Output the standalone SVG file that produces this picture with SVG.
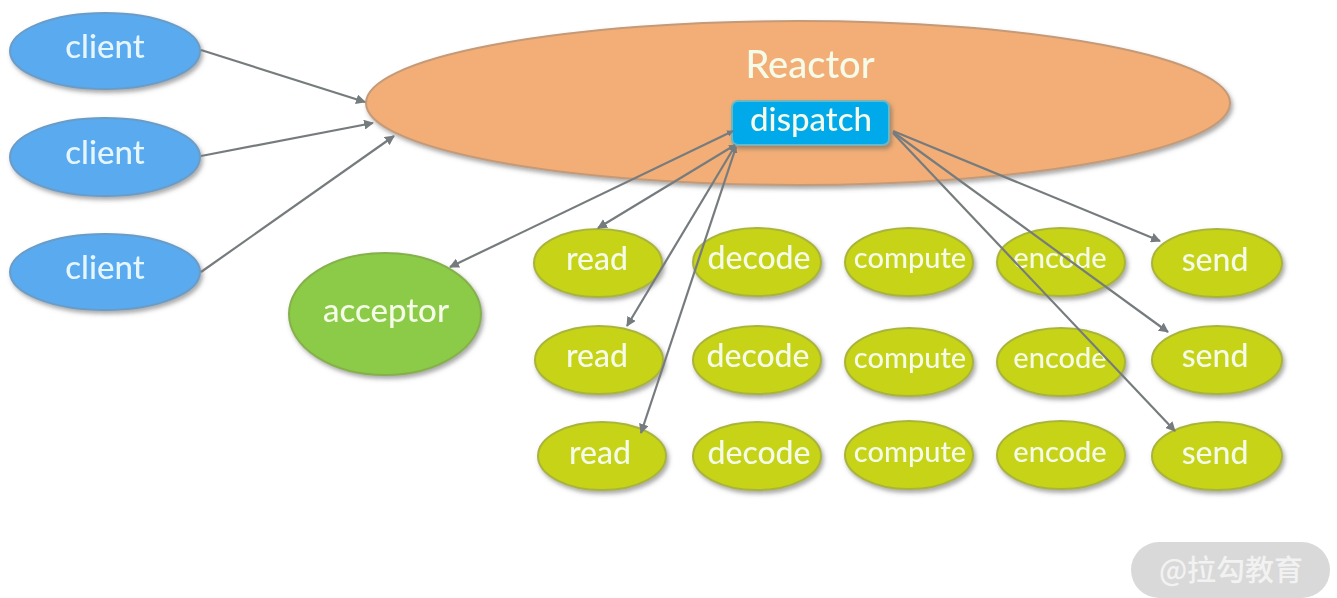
<svg xmlns="http://www.w3.org/2000/svg" width="1337" height="598" viewBox="0 0 1337 598">
<style>
text{font-family:"Lato","Noto Sans",sans-serif;fill:#f4fbe8;text-anchor:middle;font-weight:500}
.c ellipse{fill:#5aaaf0;stroke:#6a9cc8;stroke-width:2}
.c text{font-size:33px;fill:#e6f6ff}
.t ellipse{fill:#c6d318;stroke:#a9b43c;stroke-width:2}
.t text{font-size:32px}
.t text.n{font-size:29px}
.l{stroke:#767c7e;stroke-width:2.2;fill:none;marker-end:url(#a)}
.b{marker-start:url(#b)}
</style>
<defs>
<filter id="s" x="-10%" y="-20%" width="120%" height="140%"><feDropShadow dx="2" dy="3" stdDeviation="2" flood-color="#555" flood-opacity=".5"/></filter>
<marker id="a" viewBox="0 0 10 10" refX="9" refY="5" markerWidth="4.5" markerHeight="4.5" orient="auto-start-reverse"><path d="M0 0L10 5L0 10z" fill="#767c7e"/></marker>
<marker id="b" viewBox="0 0 10 10" refX="9" refY="5" markerWidth="3" markerHeight="3" orient="auto-start-reverse"><path d="M0 0L10 5L0 10z" fill="#767c7e"/></marker>
</defs>
<rect width="1337" height="598" fill="#fff"/>
<g id="reactor" filter="url(#s)"><ellipse cx="798" cy="103" rx="432" ry="82" fill="#f2ae76" stroke="#c49a78" stroke-width="2"/><text x="810" y="78" font-size="38">Reactor</text></g>
<g id="client1" class="c" filter="url(#s)"><ellipse cx="105" cy="51" rx="95" ry="38"/><text x="105" y="58">client</text></g>
<g id="client2" class="c" filter="url(#s)"><ellipse cx="105" cy="157" rx="95" ry="39"/><text x="105" y="164">client</text></g>
<g id="client3" class="c" filter="url(#s)"><ellipse cx="105" cy="272" rx="95" ry="38"/><text x="105" y="279">client</text></g>
<g id="acceptor" class="t" filter="url(#s)"><ellipse cx="385" cy="314" rx="96" ry="61" style="fill:#8ccb46;stroke:#85b04c"/><text x="386" y="322" style="font-size:33px">acceptor</text></g>
<g id="dispatch" filter="url(#s)"><rect x="732" y="101" width="157" height="44" rx="6" fill="#04a9ea" stroke="#6fb6c0" stroke-width="2"/><text x="811" y="131" font-size="33">dispatch</text></g>
<g id="read1" class="t" filter="url(#s)"><ellipse cx="598" cy="263" rx="64" ry="34"/><text x="597" y="270">read</text></g>
<g id="decode1" class="t" filter="url(#s)"><ellipse cx="757" cy="262" rx="64" ry="34"/><text x="759" y="269">decode</text></g>
<g id="compute1" class="t" filter="url(#s)"><ellipse cx="909" cy="262" rx="64" ry="34"/><text x="910" y="268" class="n">compute</text></g>
<g id="encode1" class="t" filter="url(#s)"><ellipse cx="1061" cy="262" rx="64" ry="34"/><text x="1060" y="268" class="n">encode</text></g>
<g id="send1" class="t" filter="url(#s)"><ellipse cx="1217" cy="263" rx="65" ry="34"/><text x="1215" y="271">send</text></g>
<g id="read2" class="t" filter="url(#s)"><ellipse cx="599" cy="360" rx="64" ry="34"/><text x="597" y="367">read</text></g>
<g id="decode2" class="t" filter="url(#s)"><ellipse cx="757" cy="360" rx="64" ry="34"/><text x="758" y="367">decode</text></g>
<g id="compute2" class="t" filter="url(#s)"><ellipse cx="909" cy="362" rx="64" ry="34"/><text x="910" y="368" class="n">compute</text></g>
<g id="encode2" class="t" filter="url(#s)"><ellipse cx="1061" cy="362" rx="64" ry="34"/><text x="1060" y="368" class="n">encode</text></g>
<g id="send2" class="t" filter="url(#s)"><ellipse cx="1217" cy="360" rx="65" ry="34"/><text x="1215" y="367">send</text></g>
<g id="read3" class="t" filter="url(#s)"><ellipse cx="602" cy="456" rx="64" ry="34"/><text x="600" y="464">read</text></g>
<g id="decode3" class="t" filter="url(#s)"><ellipse cx="757" cy="456" rx="64" ry="34"/><text x="759" y="464">decode</text></g>
<g id="compute3" class="t" filter="url(#s)"><ellipse cx="909" cy="455" rx="64" ry="34"/><text x="910" y="462" class="n">compute</text></g>
<g id="encode3" class="t" filter="url(#s)"><ellipse cx="1061" cy="455" rx="64" ry="34"/><text x="1060" y="462" class="n">encode</text></g>
<g id="send3" class="t" filter="url(#s)"><ellipse cx="1217" cy="456" rx="65" ry="34"/><text x="1215" y="464">send</text></g>
<g id="connectors">
<path class="l" d="M201 50L365 102"/>
<path class="l" d="M201 156L373 123"/>
<path class="l" d="M201 272L394 136"/>
<path class="l b" d="M733 131L450 267"/>
<path class="l b" d="M735 145L598 228"/>
<path class="l b" d="M735 146L627 326"/>
<path class="l b" d="M736 147L641 433"/>
<path class="l" d="M893 131L1160 241"/>
<path class="l" d="M893 132L1168 332"/>
<path class="l" d="M893 133L1175 431"/>
</g>
<g id="watermark"><rect x="1131" y="542" width="199" height="56" rx="28" fill="#d9d9d9"/><text x="1231" y="581" font-size="29" style="font-family:'Noto Sans CJK SC','Noto Sans',sans-serif;fill:#f2f2f2">@拉勾教育</text></g>
</svg>
